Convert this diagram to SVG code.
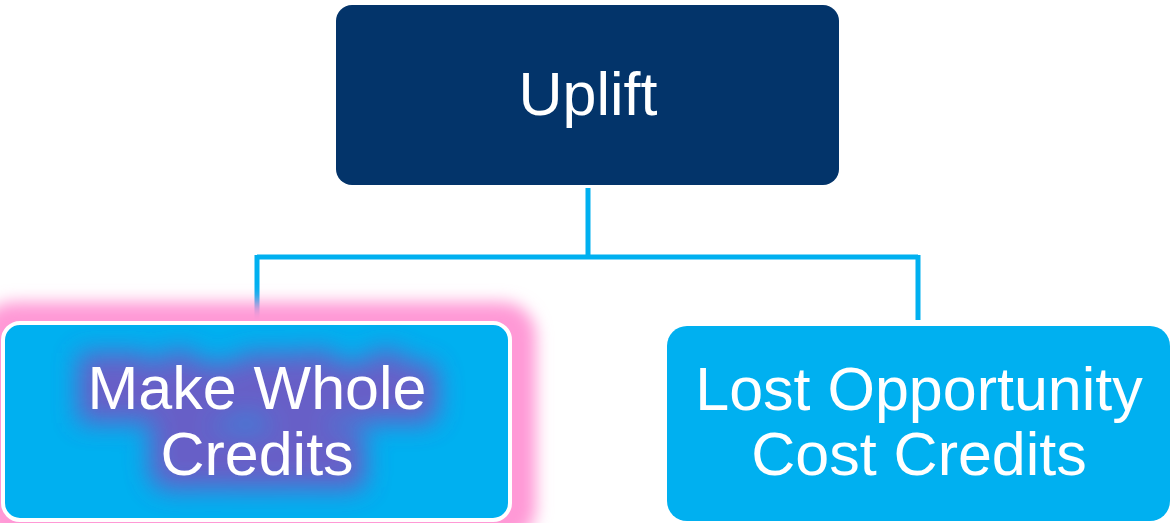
<svg xmlns="http://www.w3.org/2000/svg" width="1170" height="523" viewBox="0 0 1170 523">
<defs>
<style>
.lbl{font-family:"Liberation Sans",Arial,sans-serif;font-size:61px;fill:#ffffff;text-anchor:middle}
.conn{fill:none;stroke:#00B0F0;stroke-width:5}
</style>
<filter id="glow" x="-20%" y="-30%" width="140%" height="160%">
<feGaussianBlur stdDeviation="8"/>
</filter>
<filter id="tglow" x="-30%" y="-50%" width="160%" height="200%">
<feMorphology operator="dilate" radius="14" in="SourceAlpha" result="d"/>
<feFlood flood-color="#8A44BA"/>
<feComposite operator="in" in2="d"/>
<feGaussianBlur stdDeviation="13"/>
</filter>
</defs>
<rect width="1170" height="523" fill="#ffffff"/>
<g id="connectors">
<path class="conn" d="M588 188 V257 M257 257 H918 M257 255 V324 M918 255 V320"/>
</g>
<g id="node-make-whole">
<rect x="-20" y="302" width="556" height="240" rx="34" fill="#FF99D6" filter="url(#glow)"/>
<rect x="3" y="323" width="507" height="197" rx="17" fill="#00B0F0" stroke="#ffffff" stroke-width="4"/>
<g filter="url(#tglow)" opacity="0.75">
<text class="lbl" x="257" y="409">Make Whole</text>
<text class="lbl" x="257" y="475">Credits</text>
</g>
<text class="lbl" x="257" y="409">Make Whole</text>
<text class="lbl" x="257" y="475">Credits</text>
</g>
<g id="node-uplift">
<rect x="336" y="5" width="503" height="180" rx="16" fill="#03346A"/>
<text class="lbl" x="588" y="115">Uplift</text>
</g>
<g id="node-lost-opportunity">
<rect x="667" y="326" width="503" height="195" rx="20" fill="#00B0F0"/>
<text class="lbl" x="919" y="410">Lost Opportunity</text>
<text class="lbl" x="919" y="475">Cost Credits</text>
</g>
</svg>
